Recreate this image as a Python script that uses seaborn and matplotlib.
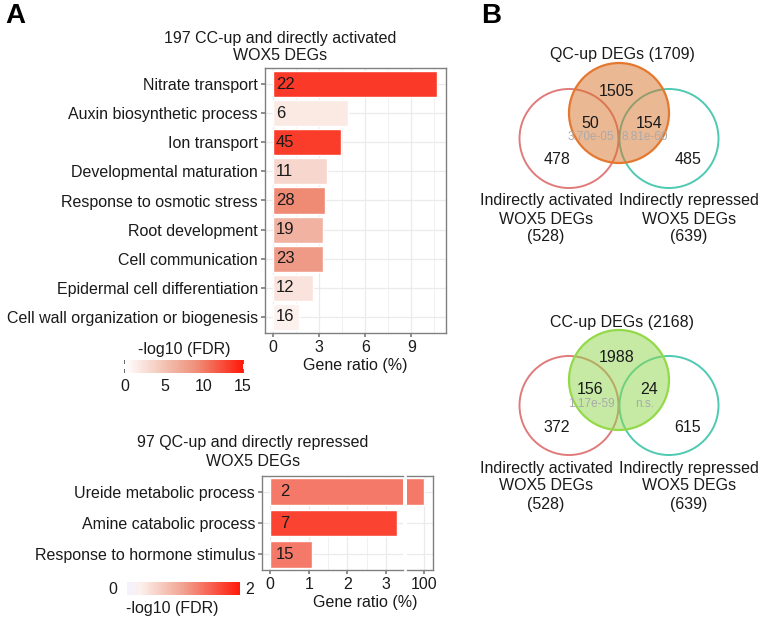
import pandas as pd
import matplotlib
matplotlib.use('Agg')
import matplotlib.pyplot as plt
import seaborn as sns
from matplotlib.colors import LinearSegmentedColormap, Normalize
from matplotlib.cm import ScalarMappable
from matplotlib.patches import Circle

# ---- Panel A (top): 197 CC-up and directly activated WOX5 DEGs ----
cc_terms = ['Nitrate transport', 'Auxin biosynthetic process', 'Ion transport',
            'Developmental maturation', 'Response to osmotic stress', 'Root development',
            'Cell communication', 'Epidermal cell differentiation',
            'Cell wall organization or biogenesis']
cc_ratio = [10.65, 4.85, 4.45, 3.5, 3.4, 3.25, 3.25, 2.6, 1.7]
cc_count = [22, 6, 45, 11, 28, 19, 23, 12, 16]
cc_fdr = [13.4, 1.8, 13.2, 3.3, 9.3, 6.3, 8.2, 2.3, 1.2]

# ---- Panel A (bottom): 97 QC-up and directly repressed WOX5 DEGs ----
qc_terms = ['Ureide metabolic process', 'Amine catabolic process', 'Response to hormone stimulus']
qc_ratio = [100, 3.28, 1.08]
qc_count = [2, 7, 15]
qc_fdr = [1.3, 1.7, 1.3]

# ---- Panel B: Venn diagrams ----
# counts order: main only, left & main, right & main, left only, right only
venn_top_title = 'QC-up DEGs (1709)'
venn_top_counts = [1505, 50, 154, 478, 485]
venn_top_p = ['3.70e-05', '8.81e-60']
venn_bot_title = 'CC-up DEGs (2168)'
venn_bot_counts = [1988, 156, 24, 372, 615]
venn_bot_p = ['1.17e-59', 'n.s.']
left_set = 'Indirectly activated\nWOX5 DEGs\n(528)'
right_set = 'Indirectly repressed\nWOX5 DEGs\n(639)'

sns.set_theme(style='white')
plt.rcParams['font.family'] = ['Liberation Sans', 'DejaVu Sans']
FS = 11.5
TXT = '#1a1a1a'
GRID = '#ebebeb'
SPINE = '#808080'

W, H = 761, 618
fig = plt.figure(figsize=(W / 100, H / 100), dpi=100)


def rect(l, t, r, b):
    return [l / W, 1 - b / H, (r - l) / W, (b - t) / H]


cmap_cc = LinearSegmentedColormap.from_list(
    'cc', [(0, '#ffffff'), (0.33, '#f3c3b4'), (0.6, '#ee907a'), (1, '#ff1a0a')])
cmap_qc = LinearSegmentedColormap.from_list(
    'qc', [(0, '#f3f1ff'), (0.12, '#fcf0ec'), (0.5, '#f1a290'), (1, '#ff1a0a')])


def draw_bars(ax, terms, ratio, fdr, cmap, vmax, width):
    norm = Normalize(0, vmax)
    pal = [cmap(norm(v)) for v in fdr]
    df = pd.DataFrame({'term': terms, 'ratio': ratio})
    sns.barplot(data=df, x='ratio', y='term', hue='term', palette=pal, legend=False,
                width=width, edgecolor='white', linewidth=1.0, saturation=1, ax=ax, zorder=3)
    ax.set_xlabel('')
    ax.set_ylabel('')


def style_axes(ax, major, minor):
    ax.set_xticks(major)
    ax.set_xticks(minor, minor=True)
    ax.grid(True, which='major', axis='both', color=GRID, lw=0.9, zorder=0)
    ax.grid(True, which='minor', axis='x', color=GRID, lw=0.5, zorder=0)
    ax.set_axisbelow(True)
    for s in ax.spines.values():
        s.set_color(SPINE)
        s.set_linewidth(1.0)
    ax.tick_params(axis='both', which='major', length=3, color=SPINE, labelsize=FS,
                   labelcolor=TXT, pad=2, bottom=True, left=True)
    ax.tick_params(axis='x', which='minor', length=0)


# ---------- top bar chart ----------
ax1 = fig.add_axes(rect(265, 68, 446, 333))
draw_bars(ax1, cc_terms, cc_ratio, cc_fdr, cmap_cc, 15, 0.9)
ax1.set_xlim(-0.52, 11.25)
ax1.set_ylim(len(cc_terms) - 0.45, -0.55)
style_axes(ax1, [0, 3, 6, 9], [1.5, 4.5, 7.5, 10.5])
for i, c in enumerate(cc_count):
    ax1.text(0.2, i, str(c), ha='left', va='center', fontsize=12, color=TXT, zorder=4)
ax1.set_xlabel('Gene ratio (%)', fontsize=FS, color=TXT, labelpad=2)
fig.text(280 / W, 1 - 47 / H, '197 CC-up and directly activated\nWOX5 DEGs',
         ha='center', va='center', fontsize=FS, color=TXT, linespacing=1.25)

cax1 = fig.add_axes(rect(125, 360, 243, 373))
sm1 = ScalarMappable(norm=Normalize(0, 15), cmap=cmap_cc)
cb1 = fig.colorbar(sm1, cax=cax1, orientation='horizontal', ticks=[0, 5, 10, 15])
cb1.outline.set_visible(False)
cax1.tick_params(length=3, direction='in', color='#555555', labelsize=FS, labelcolor=TXT,
                 pad=4, top=True)
cax1.set_title('-log10 (FDR)', fontsize=FS, color=TXT, pad=4)

# ---------- bottom bar chart (broken x axis) ----------
ax2 = fig.add_axes(rect(262, 476, 403, 570))
ax3 = fig.add_axes(rect(407, 476, 433, 570))
for ax in (ax2, ax3):
    draw_bars(ax, qc_terms, qc_ratio, qc_fdr, cmap_qc, 2, 0.85)
    ax.set_ylim(len(qc_terms) - 0.5, -0.5)
ax2.set_xlim(-0.21, 3.44)
ax3.set_xlim(99.56, 100.23)
style_axes(ax2, [0, 1, 2, 3], [0.5, 1.5, 2.5])
style_axes(ax3, [100], [])
ax2.spines['right'].set_visible(False)
ax3.spines['left'].set_visible(False)
ax3.tick_params(axis='y', left=False, labelleft=False)
for i, c in enumerate(qc_count):
    ax2.text(0.38, i, str(c), ha='center', va='center', fontsize=12, color=TXT, zorder=4)
fig.text(365 / W, 1 - 602 / H, 'Gene ratio (%)', ha='center', va='center', fontsize=FS, color=TXT)
fig.text(253 / W, 1 - 452 / H, '97 QC-up and directly repressed\nWOX5 DEGs',
         ha='center', va='center', fontsize=FS, color=TXT, linespacing=1.25)

cax2 = fig.add_axes(rect(127, 582, 240, 595))
sm2 = ScalarMappable(norm=Normalize(0, 2), cmap=cmap_qc)
cb2 = fig.colorbar(sm2, cax=cax2, orientation='horizontal', ticks=[0.5, 1, 1.5])
cb2.outline.set_visible(False)
cax2.tick_params(length=3, direction='in', color='#777777', labelbottom=False, top=True)
fig.text(113 / W, 1 - 589 / H, '0', ha='center', va='center', fontsize=FS, color=TXT)
fig.text(250 / W, 1 - 589 / H, '2', ha='center', va='center', fontsize=FS, color=TXT)
fig.text(172 / W, 1 - 608 / H, '-log10 (FDR)', ha='center', va='center', fontsize=FS, color=TXT)

# ---------- Venn diagrams ----------
axv = fig.add_axes(rect(470, 0, 761, 618))
axv.set_xlim(470, 761)
axv.set_ylim(618, 0)
axv.axis('off')


def draw_venn(cx, cy, title, counts, pvals, edge, fill):
    r, dx, dy = 50, 50, 25.5
    axv.add_patch(Circle((cx - dx, cy + dy), r - 0.5, fill=False, edgecolor='#e07b7b', lw=1.4))
    axv.add_patch(Circle((cx + dx, cy + dy), r - 0.5, fill=False, edgecolor='#4ec9b2', lw=1.4))
    axv.add_patch(Circle((cx, cy), r, facecolor=fill, edgecolor='none', alpha=0.5))
    axv.add_patch(Circle((cx, cy), r, fill=False, edgecolor=edge, lw=1.6))
    kw = dict(ha='center', va='center', fontsize=FS, color=TXT)
    axv.text(cx + 3, cy - 58, title, **kw)
    axv.text(cx - 2, cy - 22, str(counts[0]), **kw)
    axv.text(cx - 29, cy + 10, str(counts[1]), **kw)
    axv.text(cx + 30, cy + 10, str(counts[2]), **kw)
    axv.text(cx - 62, cy + 47, str(counts[3]), **kw)
    axv.text(cx + 69, cy + 47, str(counts[4]), **kw)
    pkw = dict(ha='center', va='center', fontsize=8.5, color='#aaaaaa')
    axv.text(cx - 28, cy + 24, pvals[0], **pkw)
    axv.text(cx + 26, cy + 24, pvals[1], **pkw)
    axv.text(cx - 73, cy + 106, left_set, linespacing=1.25, **kw)
    axv.text(cx + 70, cy + 106, right_set, linespacing=1.25, **kw)


draw_venn(619, 113, venn_top_title, venn_top_counts, venn_top_p, '#e5782f', '#d9732a')
draw_venn(619, 380, venn_bot_title, venn_bot_counts, venn_bot_p, '#93d94a', '#8fd64a')

fig.text(5 / W, 1 - 3 / H, 'A', ha='left', va='top', fontsize=20, fontweight='bold', color='black')
fig.text(481 / W, 1 - 3 / H, 'B', ha='left', va='top', fontsize=20, fontweight='bold', color='black')

fig.savefig('out.png', dpi=100)
